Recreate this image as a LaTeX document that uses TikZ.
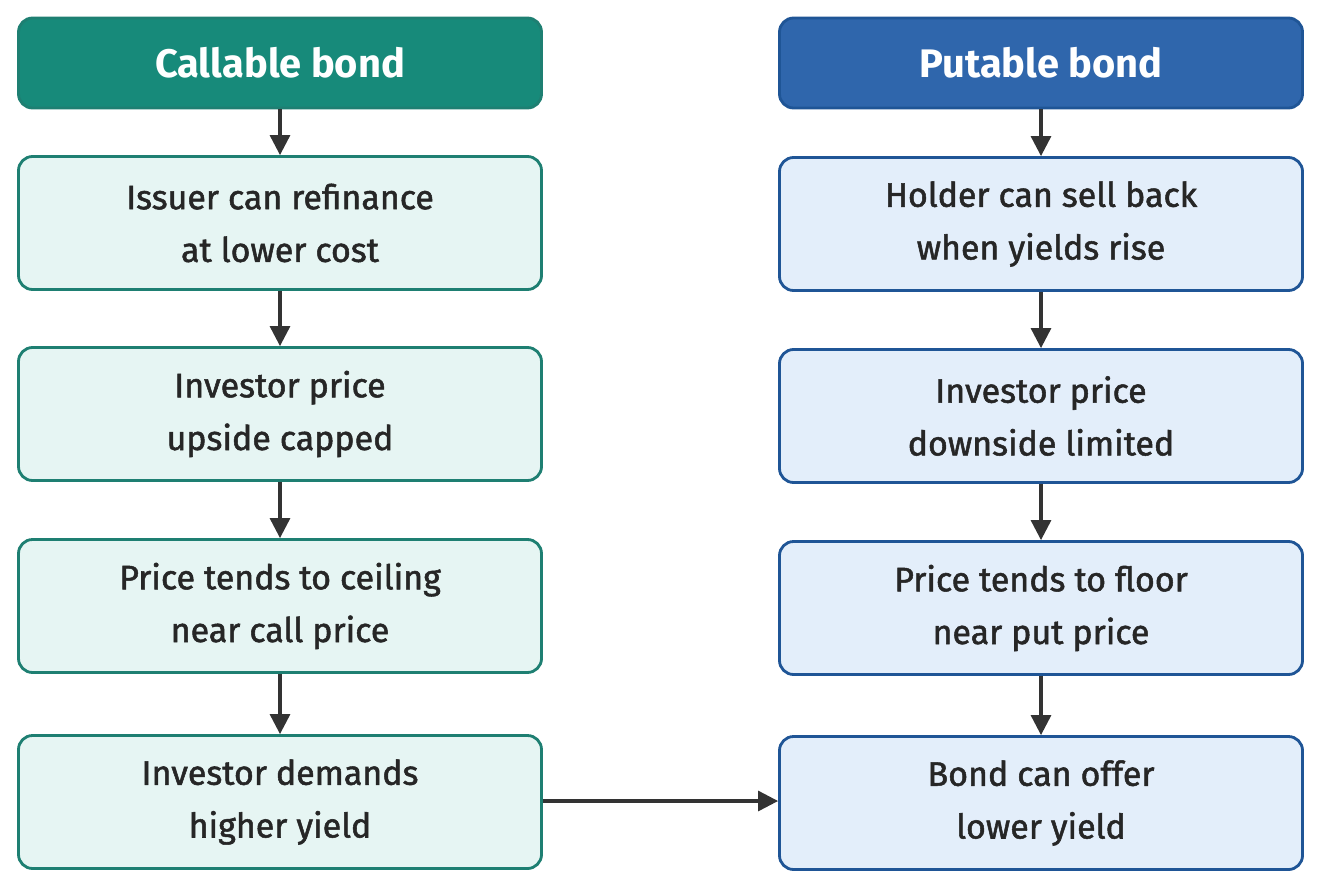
\documentclass[tikz,border=0pt]{standalone}
\usepackage{fontspec}
\setmainfont{Fira Sans}
\usetikzlibrary{arrows.meta}
\definecolor{tealhead}{HTML}{178A7A}
\definecolor{tealline}{HTML}{1E7F72}
\definecolor{tealfill}{HTML}{E6F5F3}
\definecolor{bluehead}{HTML}{2F66AC}
\definecolor{blueline}{HTML}{1F5596}
\definecolor{bluefill}{HTML}{E3EEFA}
\tikzset{
  box/.style={draw, line width=2.4pt, rounded corners=12pt, minimum width=15.69cm,
    minimum height=3.99cm, align=center, text=black!85,
    font=\fontsize{29}{45}\selectfont\addfontfeature{FakeBold=1.5}},
  head/.style={box, minimum height=2.7cm, text=white,
    font=\fontsize{34}{40}\selectfont\bfseries},
  callbox/.style={box, draw=tealline, fill=tealfill},
  putbox/.style={box, draw=blueline, fill=bluefill},
  arr/.style={-{Triangle[length=17pt,width=17pt]}, line width=2.6pt, draw=black!80}
}
\begin{document}
\begin{tikzpicture}[x=0.03cm,y=-0.03cm]
    \useasboundingbox (0,0) rectangle (1321,890);
    % callable side
    \node[head, draw=tealline, fill=tealhead] (c0) at (280,63) {Callable bond};
    \node[callbox] (c1) at (280,223) {Issuer can refinance\\at lower cost};
    \node[callbox] (c2) at (280,414) {Investor price\\upside capped};
    \node[callbox] (c3) at (280,606) {Price tends to ceiling\\near call price};
    \node[callbox] (c4) at (280,802) {Investor demands\\higher yield};
    % putable side
    \node[head, draw=blueline, fill=bluehead] (p0) at (1041,63) {Putable bond};
    \node[putbox] (p1) at (1041,224) {Holder can sell back\\when yields rise};
    \node[putbox] (p2) at (1041,416) {Investor price\\downside limited};
    \node[putbox] (p3) at (1041,608) {Price tends to floor\\near put price};
    \node[putbox] (p4) at (1041,803) {Bond can offer\\lower yield};
    \foreach \a/\b in {c0/c1,c1/c2,c2/c3,c3/c4,p0/p1,p1/p2,p2/p3,p3/p4}
        \draw[arr] (\a) -- (\b);
    \draw[arr] (c4.east |- 0,801) -- (p4.west |- 0,801);
\end{tikzpicture}
\end{document}
